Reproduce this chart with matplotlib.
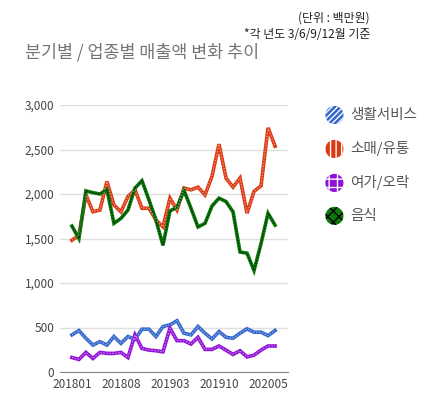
import matplotlib
import numpy as np

matplotlib.use('Agg')

import matplotlib.pyplot as plt
from matplotlib.ticker import FuncFormatter

plt.rcParams['font.family'] = ['Noto Sans CJK KR', 'DejaVu Sans']
plt.rcParams['hatch.linewidth'] = 1.0

# monthly data 201801 ~ 202006 (unit: million won)
months = ['2018%02d' % m for m in range(1, 13)] + ['2019%02d' % m for m in range(1, 13)] \
    + ['2020%02d' % m for m in range(1, 7)]

service = [417, 466, 379, 303, 341, 303, 398, 322, 398, 368, 481, 481, 398, 511, 530,
           576, 436, 417, 511, 436, 371, 454, 390, 379, 436, 485, 447, 447, 409, 466]
retail = [1480, 1537, 1990, 1801, 1820, 2141, 1877, 1800, 1971, 2047, 1840, 1840, 1707, 1631, 1953,
          1820, 2066, 2047, 2077, 1990, 2198, 2560, 2179, 2077, 2180, 1783, 2030, 2092, 2745, 2537]
leisure = [163, 141, 220, 152, 220, 209, 209, 220, 163, 417, 265, 246, 239, 227, 493,
           352, 352, 314, 390, 254, 254, 292, 246, 197, 239, 170, 189, 246, 292, 292]
food = [1640, 1500, 2035, 2015, 2000, 2050, 1670, 1726, 1820, 2066, 2149, 1934, 1707, 1424, 1810,
        1850, 2040, 1840, 1630, 1670, 1865, 1953, 1915, 1800, 1348, 1335, 1140, 1443, 1783, 1650]

series = [
    ('생활서비스', service, '#3366cc', 'white', '//////'),
    ('소매/유통', retail, '#dc3912', 'white', '|||'),
    ('여가/오락', leisure, '#9010d8', 'white', '++'),
    ('음식', food, '#0c7a0c', 'black', 'xxx'),
]

fig = plt.figure(figsize=(4.3, 4.0), dpi=100)
ax = fig.add_axes([60 / 430, 28 / 400, 228 / 430, 267 / 400])

x = np.arange(len(months))
handles = []
for name, vals, color, pat_color, hatch in series:
    ax.plot(x, vals, color=color, lw=2.6, solid_joinstyle='miter', zorder=3)
    # rough imitation of the patterned strokes
    ax.plot(x, vals, color=pat_color, lw=0.9, alpha=0.45 if pat_color == 'white' else 0.7,
            dashes=(1.2, 1.2), zorder=4)
    h = ax.scatter([], [], s=170, marker='o', facecolor=color, edgecolors=pat_color,
                   linewidths=0, hatch=hatch, label=name)
    handles.append(h)

ax.set_xlim(-1.7, len(months) - 1 + 1.85)
ax.set_ylim(0, 3000)
ax.set_yticks(range(0, 3001, 500))
ax.yaxis.set_major_formatter(FuncFormatter(lambda v, p: f'{int(v):,}'))
ax.set_xticks(x[::7])
ax.set_xticklabels(months[::7])
ax.tick_params(length=0, labelsize=8.5, colors='#444444', pad=4)
ax.grid(axis='y', color='#e0e0e0', lw=1)
ax.set_axisbelow(True)
for s in ['top', 'right', 'left']:
    ax.spines[s].set_visible(False)
ax.spines['bottom'].set_color('#888888')
ax.spines['bottom'].set_zorder(2)

fig.text(25 / 430, 1 - 52 / 400, '분기별 / 업종별 매출액 변화 추이', fontsize=12.5, color='#757575',
         va='center', ha='left')
fig.text(370 / 430, 1 - 18 / 400, '(단위 : 백만원)', fontsize=8.6, color='#222222',
         va='center', ha='right')
fig.text(370 / 430, 1 - 35 / 400, '*각 년도 3/6/9/12월 기준', fontsize=8.6, color='#222222',
         va='center', ha='right')

leg = fig.legend(handles=handles, loc='upper left', bbox_to_anchor=(314 / 430, 1 - 102 / 400),
                 frameon=False, fontsize=10.5, labelspacing=1.3, handletextpad=0.1,
                 markerscale=1.0, borderaxespad=0)
for t in leg.get_texts():
    t.set_color('#555555')

fig.savefig('out.png', dpi=100)
